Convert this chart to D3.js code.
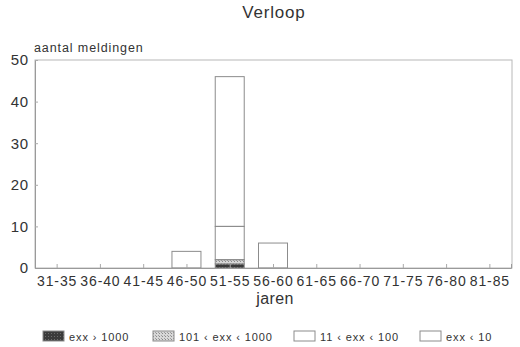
<!DOCTYPE html>
<html><head><meta charset="utf-8">
<script src="https://cdn.jsdelivr.net/npm/d3@7"></script>
<style>body{margin:0;background:#fff}svg{display:block;font-family:"Liberation Sans",Arial,sans-serif}</style>
</head><body><svg id="c" width="520" height="347"></svg>
<script>
const categories = ["31-35","36-40","41-45","46-50","51-55","56-60","61-65","66-70","71-75","76-80","81-85"];
const seriesNames = ["exx › 1000","101 ‹ exx ‹ 1000","11 ‹ exx ‹ 100","exx ‹ 10"];
const sGt1000   = [0,0,0,0,1,0,0,0,0,0,0];
const s101_1000 = [0,0,0,0,1,0,0,0,0,0,0];
const s11_100   = [0,0,0,0,8,0,0,0,0,0,0];
const sLt10     = [0,0,0,4,36,6,0,0,0,0,0];
const yTicks = [0,10,20,30,40,50];

const svg = d3.select("#c");
const m = {l:35, r:511, t:60, b:268};
const x = d3.scaleBand().domain(categories).range([m.l, m.r]).paddingInner(0.33).paddingOuter(0.165);
const xc = d3.scalePoint().domain(categories).range([m.l, m.r]).padding(0.5);
const y = d3.scaleLinear().domain([0,50]).range([m.b, m.t]);

const defs = svg.append("defs");
const p1 = defs.append("pattern").attr("id","dark").attr("patternUnits","userSpaceOnUse").attr("width",3).attr("height",3);
p1.append("rect").attr("width",3).attr("height",3).attr("fill","#3a3a3a");
p1.append("rect").attr("width",1).attr("height",1).attr("fill","#6a6a6a");
const p2 = defs.append("pattern").attr("id","hatch").attr("patternUnits","userSpaceOnUse").attr("width",3).attr("height",3);
p2.append("rect").attr("width",3).attr("height",3).attr("fill","#d8d8d8");
p2.append("rect").attr("width",1).attr("height",1).attr("fill","#8a8a8a");
p2.append("rect").attr("x",2).attr("y",2).attr("width",1).attr("height",1).attr("fill","#a0a0a0");
const fills = ["url(#dark)","url(#hatch)","none","none"];

// frame
svg.append("rect").attr("x",m.l).attr("y",m.t).attr("width",m.r-m.l+1).attr("height",m.b-m.t)
  .attr("fill","none").attr("stroke","#b8b8b8").attr("stroke-width",1);

// stacked data
const table = categories.map((c,i)=>({cat:c, a:sGt1000[i], b:s101_1000[i], c:s11_100[i], d:sLt10[i]}));
const stack = d3.stack().keys(["a","b","c","d"])(table);
stack.forEach((layer,k)=>{
  svg.append("g").selectAll("rect").data(layer.filter(d=>d[1]-d[0]>0)).join("rect")
    .attr("x",d=>x(d.data.cat)).attr("width",x.bandwidth())
    .attr("y",d=>y(d[1])).attr("height",d=>y(d[0])-y(d[1]))
    .attr("fill",fills[k]).attr("stroke","#8c8c8c").attr("stroke-width",1);
});

// axes
const ya = svg.append("g").attr("transform",`translate(${m.l},0)`)
  .call(d3.axisLeft(y).tickValues(yTicks).tickSize(-3).tickPadding(6));
ya.select(".domain").attr("stroke","#9a9a9a");
ya.selectAll(".tick line").attr("stroke","#aaa");
ya.selectAll("text").attr("font-size",15).attr("letter-spacing",0.8).attr("fill","#333");

const xa = svg.append("g").attr("transform",`translate(0,${m.b})`)
  .call(d3.axisBottom(xc).tickSize(-4).tickPadding(8));
xa.select(".domain").attr("stroke","#9a9a9a");
xa.selectAll(".tick line").attr("stroke","#aaa");
xa.selectAll("text").attr("font-size",14).attr("letter-spacing",0.9).attr("fill","#333");

// titles
svg.append("text").attr("x",274).attr("y",18).attr("text-anchor","middle").attr("font-size",17).attr("letter-spacing",0.8).attr("fill","#333").text("Verloop");
svg.append("text").attr("x",34).attr("y",52).attr("font-size",12.5).attr("fill","#333").attr("letter-spacing",0.9).text("aantal meldingen");
svg.append("text").attr("x",275).attr("y",304).attr("text-anchor","middle").attr("font-size",16).attr("letter-spacing",0.4).attr("fill","#333").text("jaren");

// legend
const legX = [43,153,294,420];
const lg = svg.append("g");
seriesNames.forEach((n,i)=>{
  lg.append("rect").attr("x",legX[i]).attr("y",331).attr("width",21).attr("height",10)
    .attr("fill",fills[i]==="none"?"#fff":fills[i]).attr("stroke","#8c8c8c");
  lg.append("text").attr("x",legX[i]+26).attr("y",341).attr("font-size",11).attr("fill","#333")
    .attr("letter-spacing",0.9).text(n);
});
</script></body></html>
